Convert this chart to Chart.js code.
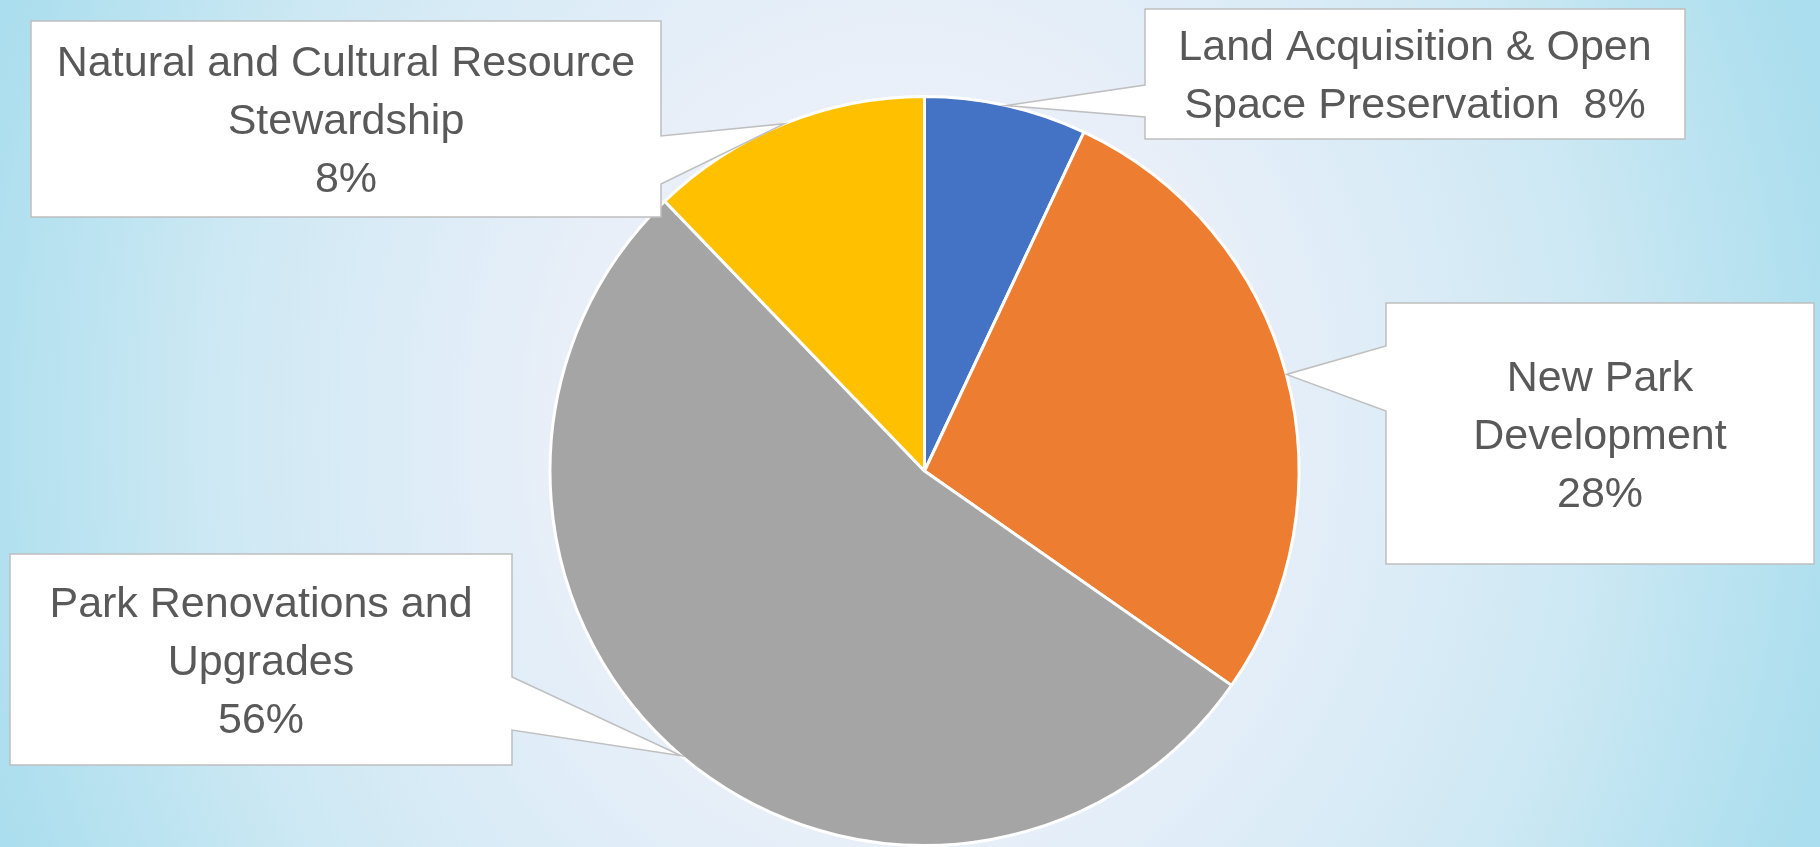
<!DOCTYPE html>
<html>
<head>
<meta charset="utf-8">
<script src="https://cdn.jsdelivr.net/npm/chart.js@4/dist/chart.umd.min.js"></script>
<style>
  html, body { margin: 0; padding: 0; overflow: hidden; }
  #wrap { width: 1820px; height: 847px; }
</style>
</head>
<body>
<div id="wrap"><canvas id="budgetPie" width="1820" height="847"></canvas></div>
<script>
// slice data (angles)
const categories = [
  ["Land Acquisition & Open", "Space Preservation"],
  ["New Park", "Development"],
  ["Park Renovations and", "Upgrades"],
  ["Natural and Cultural Resource", "Stewardship"],
];
const shares = [7.0, 27.7, 53.1, 12.2];
const pctLabels = ["8%", "28%", "56%", "8%"];
const sliceColors = ["#4472C4", "#ED7D31", "#A5A5A5", "#FFC000"];

// callout boxes: box [x0, y0, x1, y1], which side the pointer leaves from, pointer base y range
const callouts = [
  { box: [1145, 9, 1685, 139], side: "left", base: [85, 117], inline: true },
  { box: [1386, 303, 1814, 564], side: "left", base: [346, 411] },
  { box: [10, 554, 512, 765], side: "right", base: [677, 730] },
  { box: [31, 21, 661, 217], side: "right", base: [136, 184] },
];

const FONT = "43px 'Liberation Sans', Arial, sans-serif";
const LINE_H = 58;

const backgroundPlugin = {
  id: "slideBackground",
  beforeDraw(chart) {
    const { ctx, width, height } = chart;
    ctx.save();
    // elliptical radial gradient, pale in the middle and light blue at the sides
    const cx = 900, cy = 430, rx = 960, ry = 1100;
    ctx.translate(cx, cy);
    ctx.scale(rx / ry, 1);
    const g = ctx.createRadialGradient(0, 0, 0, 0, 0, ry);
    g.addColorStop(0, "#F0F2FB");
    g.addColorStop(0.35, "#E9EFF9");
    g.addColorStop(0.7, "#CFE9F4");
    g.addColorStop(1, "#ABDEEE");
    ctx.fillStyle = g;
    ctx.fillRect(-cx * ry / rx - 10, -cy - 10, width * ry / rx + 20, height + 20);
    ctx.restore();
  },
};

const calloutPlugin = {
  id: "callouts",
  afterDatasetsDraw(chart) {
    const { ctx } = chart;
    const meta = chart.getDatasetMeta(0);
    callouts.forEach((c, i) => {
      const arc = meta.data[i];
      const { x, y, startAngle, endAngle, outerRadius } = arc.getProps(
        ["x", "y", "startAngle", "endAngle", "outerRadius"], true);
      const mid = (startAngle + endAngle) / 2;
      const tx = x + Math.cos(mid) * outerRadius;
      const ty = y + Math.sin(mid) * outerRadius;
      const [x0, y0, x1, y1] = c.box;
      const [b0, b1] = c.base;

      ctx.save();
      ctx.beginPath();
      if (c.side === "left") {
        ctx.moveTo(x0, y0);
        ctx.lineTo(x1, y0);
        ctx.lineTo(x1, y1);
        ctx.lineTo(x0, y1);
        ctx.lineTo(x0, b1);
        ctx.lineTo(tx, ty);
        ctx.lineTo(x0, b0);
      } else {
        ctx.moveTo(x0, y0);
        ctx.lineTo(x1, y0);
        ctx.lineTo(x1, b0);
        ctx.lineTo(tx, ty);
        ctx.lineTo(x1, b1);
        ctx.lineTo(x1, y1);
        ctx.lineTo(x0, y1);
      }
      ctx.closePath();
      ctx.fillStyle = "#FFFFFF";
      ctx.fill();
      ctx.lineWidth = 1.5;
      ctx.strokeStyle = "#BFBFBF";
      ctx.stroke();

      // label text, centred in the box
      const lines = categories[i].slice();
      if (c.inline) {
        lines[lines.length - 1] += "  " + pctLabels[i];
      } else {
        lines.push(pctLabels[i]);
      }
      ctx.font = FONT;
      ctx.fillStyle = "#595959";
      ctx.textAlign = "center";
      ctx.textBaseline = "alphabetic";
      const cxBox = (x0 + x1) / 2;
      const cyBox = (y0 + y1) / 2;
      lines.forEach((ln, k) => {
        const by = cyBox + (k - (lines.length - 1) / 2) * LINE_H + 15;
        ctx.fillText(ln, cxBox, by);
      });
      ctx.restore();
    });
  },
};

new Chart(document.getElementById("budgetPie"), {
  type: "pie",
  data: {
    labels: categories,
    datasets: [
      {
        data: shares,
        backgroundColor: sliceColors,
        borderColor: "#FFFFFF",
        borderWidth: 3,
      },
    ],
  },
  options: {
    responsive: false,
    animation: false,
    layout: {
      padding: { left: 29, right: 0, top: 95, bottom: -3 },
    },
    plugins: {
      legend: { display: false },
      tooltip: { enabled: false },
    },
  },
  plugins: [backgroundPlugin, calloutPlugin],
});
</script>
</body>
</html>
